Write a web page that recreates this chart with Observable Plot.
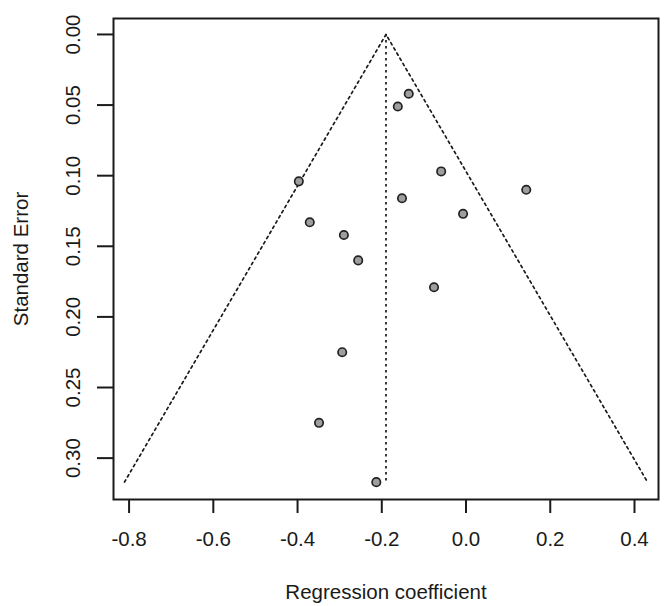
<!DOCTYPE html>
<html>
<head>
<meta charset="utf-8">
<script src="https://cdn.jsdelivr.net/npm/d3@7"></script>
<script src="https://cdn.jsdelivr.net/npm/@observablehq/plot@0.6"></script>
<style>
  html, body { margin: 0; padding: 0; background: #fff; }
  #chart svg { display: block; }
</style>
</head>
<body>
<div id="chart"></div>
<script>
// Study estimates (regression coefficient) and standard errors
const coef = [-0.136, -0.162, -0.397, -0.059, 0.143, -0.152, -0.371, -0.007, -0.290, -0.256, -0.076, -0.294, -0.349, -0.213];
const stderr = [0.042, 0.051, 0.104, 0.097, 0.110, 0.116, 0.133, 0.127, 0.142, 0.160, 0.179, 0.225, 0.275, 0.317];

// Pooled estimate and funnel outline
const pooled = -0.190;
const seMax = 0.317;
const funnelX = [-0.811, -0.190, 0.431];
const funnelSE = [0.317, 0.000, 0.317];

// Axis ticks
const xTicks = [-0.8, -0.6, -0.4, -0.2, 0.0, 0.2, 0.4];
const yTicks = [0.00, 0.05, 0.10, 0.15, 0.20, 0.25, 0.30];

const points = coef.map((c, i) => ({x: c, se: stderr[i]}));
const funnel = funnelX.map((x, i) => ({x, se: funnelSE[i]}));

const font = "Liberation Sans, Arial, sans-serif";
const ink = "#1a1a1a";
const fs = 20.5;

const chart = Plot.plot({
  width: 666,
  height: 606,
  marginLeft: 113,
  marginRight: 8,
  marginTop: 18,
  marginBottom: 107,
  style: {fontFamily: font, fontSize: fs + "px", color: ink, background: "#fff"},
  x: {domain: [-0.837, 0.457]},
  y: {domain: [-0.0113, 0.3293], reverse: true},
  marks: [
    Plot.line(funnel, {x: "x", y: "se", stroke: ink, strokeWidth: 1.7, strokeDasharray: "2.5,3.5"}),
    Plot.ruleX([pooled], {x: d => d, y1: 0, y2: seMax, stroke: ink, strokeWidth: 1.7, strokeDasharray: "2.5,3.5"}),
    Plot.dot(points, {x: "x", y: "se", r: 4.2, fill: "#9e9e9e", stroke: "#222", strokeWidth: 1.7}),
    Plot.frame({stroke: ink, strokeWidth: 2}),
    Plot.axisX({ticks: xTicks, tickSize: 14, tickFormat: () => "", stroke: ink, strokeWidth: 2, label: null}),
    Plot.axisY({ticks: yTicks, tickSize: 16, tickFormat: () => "", stroke: ink, strokeWidth: 2, label: null}),
    Plot.text(xTicks, {x: d => d, text: d => d.toFixed(1), frameAnchor: "bottom", dy: 40, lineAnchor: "middle", textAnchor: "middle", fill: ink, fontSize: fs}),
    Plot.text(yTicks, {y: d => d, text: d => d.toFixed(2), frameAnchor: "left", dx: -40, rotate: -90, lineAnchor: "middle", textAnchor: "middle", fill: ink, fontSize: fs}),
    Plot.text(["Regression coefficient"], {text: d => d, frameAnchor: "bottom", dy: 93, lineAnchor: "middle", textAnchor: "middle", fill: ink, fontSize: fs}),
    Plot.text(["Standard Error"], {text: d => d, frameAnchor: "left", dx: -92, rotate: -90, lineAnchor: "middle", textAnchor: "middle", fill: ink, fontSize: fs})
  ]
});
document.getElementById("chart").appendChild(chart);
</script>
</body>
</html>
